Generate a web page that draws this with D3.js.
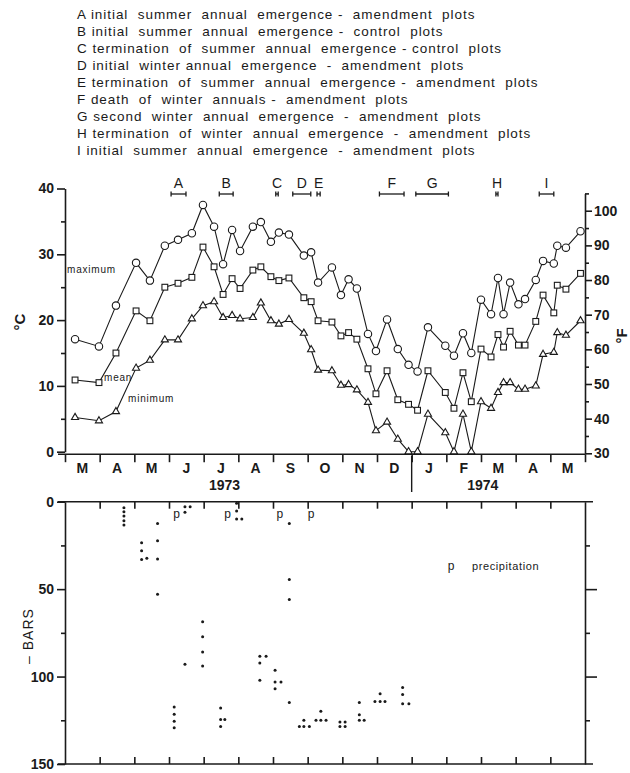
<!DOCTYPE html>
<html lang="en">
<head>
<meta charset="UTF-8">
<title>Temperature and soil water potential 1973-1974</title>
<script src="https://d3js.org/d3.v7.min.js"></script>
<style>
  body { margin: 0; background: #fff; }
  svg { font-family: "Liberation Sans", Arial, sans-serif; }
  text { fill: #1a1a1a; white-space: pre; }
</style>
</head>
<body>
<script>
// month offsets since 1 March 1973 (each month = 1 unit, as drawn)
var obsPos = [0.29, 0.98, 1.47, 2.05, 2.45, 2.88, 3.26, 3.66, 3.98, 4.30,
  4.56, 4.82, 5.05, 5.42, 5.65, 5.94, 6.17, 6.46, 6.89, 7.10,
  7.30, 7.70, 7.96, 8.18, 8.42, 8.74, 8.97, 9.29, 9.60, 9.91,
  10.17, 10.47, 10.97, 11.22, 11.48, 11.72, 12.00, 12.29, 12.49, 12.65,
  12.84, 13.08, 13.27, 13.58, 13.79, 14.10, 14.20, 14.45, 14.87];

// temperatures, deg C
var tMax = [17.1, 16.0, 22.2, 28.7, 26.0, 31.3, 32.2, 33.2, 37.5, 34.2,
  28.5, 33.7, 30.5, 34.2, 34.9, 31.9, 33.3, 33.0, 29.8, 30.3,
  25.7, 28.0, 23.8, 26.2, 24.8, 17.9, 15.3, 20.1, 15.6, 13.2,
  12.2, 18.9, 16.1, 14.6, 18.0, 15.0, 23.1, 20.9, 26.4, 20.9,
  25.7, 22.4, 23.2, 26.1, 29.0, 28.6, 31.3, 31.0, 33.5];
var tMean = [10.9, 10.5, 15.0, 21.4, 19.9, 25.0, 25.6, 26.5, 31.1, 28.1,
  23.9, 26.3, 24.8, 27.6, 28.1, 26.6, 26.0, 26.4, 23.4, 22.8,
  19.9, 19.7, 17.6, 18.1, 17.1, 12.6, 8.8, 12.3, 7.9, 7.2,
  6.3, 12.3, 9.0, 6.6, 12.0, 7.6, 15.6, 14.4, 17.8, 15.9,
  18.3, 16.2, 16.2, 19.8, 23.8, 21.1, 25.3, 24.7, 27.1];
var tMin = [5.2, 4.7, 6.1, 12.7, 13.9, 17.0, 17.0, 20.2, 22.2, 22.8,
  20.4, 20.7, 20.2, 20.4, 22.6, 19.9, 19.4, 20.1, 18.0, 15.5,
  12.4, 12.3, 10.1, 10.2, 9.4, 7.5, 3.2, 4.5, 1.9, 0.0,
  0.0, 5.7, 2.9, 0.0, 5.7, 0.0, 7.6, 6.6, 9.0, 10.5,
  10.5, 9.5, 9.5, 10.0, 14.8, 15.1, 18.1, 17.7, 19.9];

var monthLabels = ["M", "A", "M", "J", "J", "A", "S", "O", "N", "D", "J", "F", "M", "A", "M"];
var yearLabels = ["1973", "1974"];

// events A - I
var eventLetters = ["A", "B", "C", "D", "E", "F", "G", "H", "I"];
var eventStart = [3.06, 4.45, 6.08, 6.57, 7.27, 9.07, 10.12, 12.43, 13.68];
var eventEnd = [3.49, 4.85, 6.15, 7.09, 7.36, 9.78, 11.06, 12.49, 14.10];
var eventText = [
  "initial  summer  annual  emergence -  amendment  plots",
  "initial  summer  annual  emergence -  control  plots",
  "termination  of  summer  annual  emergence - control  plots",
  "initial  winter annual  emergence  -  amendment  plots",
  "termination  of  summer  annual  emergence -  amendment  plots",
  "death  of  winter  annuals -  amendment  plots",
  "second  winter  annual  emergence  -  amendment  plots",
  "termination  of  winter  annual  emergence  -  amendment  plots",
  "initial  summer  annual  emergence  -  amendment  plots"];

// soil water potential readings (- bars)
var psiPos = [1.70, 1.70, 1.70, 1.70, 1.70,
  2.21, 2.21, 2.21, 2.36,
  2.67, 2.67, 2.67, 2.67,
  3.15, 3.15, 3.15, 3.15,
  3.46, 3.46, 3.46, 3.61,
  3.97, 3.97, 3.97, 3.97,
  4.49, 4.49, 4.49, 4.61,
  4.95, 4.95, 4.95, 5.10,
  5.62, 5.62, 5.62, 5.80,
  6.06, 6.06, 6.06, 6.23,
  6.47, 6.47, 6.47, 6.47,
  6.76, 6.89, 6.89, 7.05,
  7.24, 7.38, 7.38, 7.53,
  7.93, 7.93, 8.08, 8.08,
  8.49, 8.49, 8.49, 8.63,
  8.94, 9.09, 9.09, 9.23,
  9.74, 9.74, 9.74, 9.92];
var psiBars = [3.4, 5.7, 8.2, 10.9, 13.3,
  23.5, 28.1, 33.0, 32.4,
  12.4, 22.3, 32.8, 52.9,
  117.4, 121.6, 125.6, 129.2,
  2.9, 6.1, 93.0, 2.9,
  68.7, 77.3, 85.9, 93.9,
  118.0, 124.5, 128.5, 124.5,
  0.9, 5.3, 9.9, 9.9,
  88.4, 92.2, 102.1, 88.4,
  96.4, 103.1, 106.9, 103.1,
  12.4, 44.5, 55.9, 114.9,
  128.5, 125.0, 128.5, 128.5,
  125.0, 119.9, 125.0, 125.0,
  126.0, 128.5, 126.0, 128.5,
  114.9, 121.8, 125.0, 125.0,
  114.2, 109.8, 114.2, 114.2,
  106.3, 110.2, 115.5, 115.5];
var precipPos = [3.22, 4.69, 6.20, 7.10];

var ink = "#1a1a1a";
var svg = d3.select("body").append("svg").attr("width", 630).attr("height", 773);

var x = d3.scaleLinear().domain([0, 15]).range([65, 585]);
var yC = d3.scaleLinear().domain([0, 40]).range([451.7, 188.5]);
var yF = d3.scaleLinear().domain([30, 105]).range([453.3, 193.4]);
var yB = d3.scaleLinear().domain([0, 150]).range([501.7, 764]);

// ---- legend of events ----
svg.append("g").selectAll("text")
  .data(eventText)
  .join("text")
  .attr("x", 77)
  .attr("y", (d, i) => 19 + i * 17)
  .attr("font-size", 13.5)
  .attr("letter-spacing", 0.95)
  .text((d, i) => eventLetters[i] + " " + d);

// ---- event bars above the temperature plot ----
var ev = svg.append("g").attr("stroke", ink).attr("stroke-width", 1.3);
eventLetters.forEach(function (l, i) {
  var x0 = x(eventStart[i]), x1 = x(eventEnd[i]), yy = 194;
  ev.append("line").attr("x1", x0).attr("x2", x1).attr("y1", yy).attr("y2", yy);
  ev.append("line").attr("x1", x0).attr("x2", x0).attr("y1", yy - 2.5).attr("y2", yy + 2.5);
  ev.append("line").attr("x1", x1).attr("x2", x1).attr("y1", yy - 2.5).attr("y2", yy + 2.5);
  svg.append("text").attr("x", (x0 + x1) / 2).attr("y", 188)
    .attr("text-anchor", "middle").attr("font-size", 14).text(l);
});

// ---- temperature axes ----
function styleAxis(g) {
  g.selectAll("path,line").attr("stroke", ink).attr("stroke-width", 1.6);
  g.selectAll("text").attr("fill", ink).attr("font-weight", "bold")
    .attr("font-size", 14).attr("font-family", "Liberation Sans, Arial, sans-serif");
}

svg.append("g").attr("transform", "translate(65,0)")
  .call(d3.axisLeft(yC).tickValues([0, 10, 20, 30, 40]).tickSize(8).tickSizeOuter(0).tickPadding(3))
  .call(styleAxis);
svg.append("g").attr("transform", "translate(65,0)")
  .call(d3.axisLeft(yC).tickValues([5, 15, 25, 35]).tickSize(4).tickFormat(""))
  .call(g => g.select(".domain").remove())
  .call(styleAxis);

svg.append("g").attr("transform", "translate(585,0)")
  .call(d3.axisRight(yF).tickValues([30, 40, 50, 60, 70, 80, 90, 100]).tickSize(7).tickSizeOuter(0).tickPadding(2))
  .call(styleAxis);
svg.append("g").attr("transform", "translate(585,0)")
  .call(d3.axisRight(yF).tickValues([35, 45, 55, 65, 75, 85, 95, 105]).tickSize(4).tickFormat(""))
  .call(g => g.select(".domain").remove())
  .call(styleAxis);

var xAxisY = yC(0) + 2.5;
svg.append("g").attr("transform", "translate(0," + xAxisY + ")")
  .call(d3.axisBottom(x).tickValues(d3.range(0, 16)).tickSize(8).tickFormat(""))
  .call(g => g.select(".domain").remove())
  .call(styleAxis);
svg.append("line").attr("x1", 58).attr("x2", x(15))
  .attr("y1", xAxisY).attr("y2", xAxisY).attr("stroke", ink).attr("stroke-width", 1.6);

svg.append("g").selectAll("text")
  .data(monthLabels)
  .join("text")
  .attr("x", (d, i) => x(i + 0.5))
  .attr("y", 473)
  .attr("text-anchor", "middle")
  .attr("font-size", 14)
  .attr("font-weight", "bold")
  .text(d => d);

svg.append("text").attr("x", x(4.6)).attr("y", 490).attr("text-anchor", "middle")
  .attr("font-size", 14).attr("font-weight", "bold").text(yearLabels[0]);
svg.append("text").attr("x", x(12.05)).attr("y", 490).attr("text-anchor", "middle")
  .attr("font-size", 14).attr("font-weight", "bold").text(yearLabels[1]);
svg.append("line").attr("x1", x(10)).attr("x2", x(10)).attr("y1", 456).attr("y2", 492)
  .attr("stroke", ink).attr("stroke-width", 1.4);

svg.append("text").attr("transform", "translate(25,322) rotate(-90)")
  .attr("text-anchor", "middle").attr("font-size", 15).attr("font-weight", "bold")
  .text("°C");
svg.append("text").attr("transform", "translate(627,336) rotate(-90)")
  .attr("text-anchor", "middle").attr("font-size", 15).attr("font-weight", "bold")
  .text("°F");

// ---- temperature series ----
var line = d3.line().x(d => x(d[0])).y(d => yC(d[1]));
var series = [tMax, tMean, tMin].map(vals => obsPos.map((p, i) => [p, vals[i]]));

svg.append("g").selectAll("path")
  .data(series)
  .join("path")
  .attr("d", line)
  .attr("fill", "none")
  .attr("stroke", ink)
  .attr("stroke-width", 1.1);

svg.append("g").selectAll("circle")
  .data(series[0])
  .join("circle")
  .attr("cx", d => x(d[0])).attr("cy", d => yC(d[1])).attr("r", 3.7)
  .attr("fill", "#fff").attr("stroke", ink).attr("stroke-width", 1.1);

svg.append("g").selectAll("rect")
  .data(series[1])
  .join("rect")
  .attr("x", d => x(d[0]) - 2.9).attr("y", d => yC(d[1]) - 2.9)
  .attr("width", 5.8).attr("height", 5.8)
  .attr("fill", "#fff").attr("stroke", ink).attr("stroke-width", 1.1);

var tri = d3.symbol().type(d3.symbolTriangle).size(22);
svg.append("g").selectAll("path")
  .data(series[2])
  .join("path")
  .attr("d", tri)
  .attr("transform", d => "translate(" + x(d[0]) + "," + yC(d[1]) + ")")
  .attr("fill", "#fff").attr("stroke", ink).attr("stroke-width", 1.1);

svg.append("text").attr("x", 67).attr("y", 273).attr("font-size", 10).attr("letter-spacing", 0.8).text("maximum");
svg.append("text").attr("x", 104).attr("y", 381).attr("font-size", 10).attr("letter-spacing", 0.8).text("mean");
svg.append("text").attr("x", 128).attr("y", 402).attr("font-size", 10).attr("letter-spacing", 0.8).text("minimum");

// ---- soil water potential panel ----
svg.append("g").attr("transform", "translate(65,0)")
  .call(d3.axisLeft(yB).tickValues([0, 50, 100, 150]).tickSize(8).tickSizeOuter(0).tickPadding(3))
  .call(styleAxis);
svg.append("g").attr("transform", "translate(65,0)")
  .call(d3.axisLeft(yB).tickValues([25, 75, 125]).tickSize(4).tickFormat(""))
  .call(g => g.select(".domain").remove())
  .call(styleAxis);
svg.append("g").attr("transform", "translate(585,0)")
  .call(d3.axisRight(yB).tickValues([50, 100]).tickSize(12).tickSizeOuter(0).tickFormat(""))
  .call(styleAxis);
svg.append("g").attr("transform", "translate(585,0)")
  .call(d3.axisRight(yB).tickValues([25, 75, 125]).tickSize(5).tickFormat(""))
  .call(g => g.select(".domain").remove())
  .call(styleAxis);

svg.append("g").attr("transform", "translate(0," + yB(0) + ")")
  .call(d3.axisBottom(x).tickValues(d3.range(1, 15)).tickSize(7).tickFormat(""))
  .call(g => g.select(".domain").remove())
  .call(styleAxis);
svg.append("g").attr("transform", "translate(0," + yB(150) + ")")
  .call(d3.axisTop(x).tickValues(d3.range(1, 15)).tickSize(7).tickFormat(""))
  .call(g => g.select(".domain").remove())
  .call(styleAxis);
[yB(0), yB(150)].forEach(function (yy) {
  svg.append("line").attr("x1", 58).attr("x2", 593).attr("y1", yy).attr("y2", yy)
    .attr("stroke", ink).attr("stroke-width", 1.6);
});

svg.append("g").selectAll("circle")
  .data(psiPos.map((p, i) => [p, psiBars[i]]))
  .join("circle")
  .attr("cx", d => x(d[0])).attr("cy", d => yB(d[1])).attr("r", 1.5)
  .attr("fill", ink);

svg.append("g").selectAll("text")
  .data(precipPos)
  .join("text")
  .attr("x", d => x(d)).attr("y", yB(9.5))
  .attr("text-anchor", "middle").attr("font-size", 12)
  .text("p");

svg.append("text").attr("x", 451).attr("y", 570).attr("text-anchor", "middle")
  .attr("font-size", 12).text("p");
svg.append("text").attr("x", 472).attr("y", 570).attr("font-size", 11)
  .attr("letter-spacing", 0.6).text("precipitation");

svg.append("text").attr("transform", "translate(33,636) rotate(-90)")
  .attr("text-anchor", "middle").attr("font-size", 14).attr("letter-spacing", 1)
  .text("– BARS");
</script>
</body>
</html>
